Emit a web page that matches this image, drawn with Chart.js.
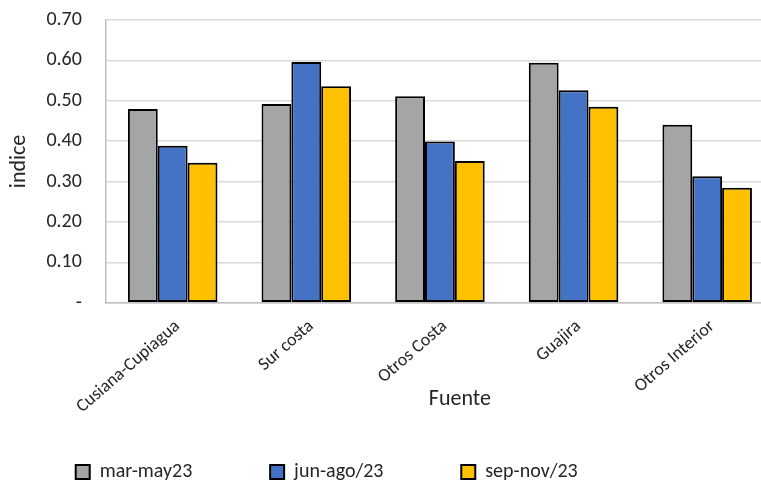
<!DOCTYPE html>
<html>
<head>
<meta charset="utf-8">
<script src="https://cdn.jsdelivr.net/npm/chart.js@4.4.0/dist/chart.umd.min.js"></script>
<style>
  html, body { margin: 0; padding: 0; background: #fff; overflow: hidden; }
  #wrap { width: 775px; height: 483px; position: relative; }
</style>
</head>
<body>
<div id="wrap"><canvas id="barChart"></canvas></div>
<script>
const categories = ["Cusiana-Cupiagua", "Sur costa", "Otros Costa", "Guajira", "Otros Interior"];
const marMay = [0.480, 0.492, 0.511, 0.594, 0.441];
const junAgo = [0.389, 0.596, 0.399, 0.526, 0.313];
const sepNov = [0.347, 0.536, 0.351, 0.485, 0.285];
const seriesLabels = ["mar-may23", "jun-ago/23", "sep-nov/23"];
const yTicks = [0, 0.1, 0.2, 0.3, 0.4, 0.5, 0.6, 0.7];

const fontFamily = "Carlito, 'Open Sans', 'Liberation Sans', sans-serif";
const textColor = "#262626";

function makeSet(label, data, color) {
    return {
        label: label,
        data: data,
        backgroundColor: color,
        borderColor: "#000",
        borderWidth: 2,
        borderSkipped: false,
        categoryPercentage: 0.67,
        barPercentage: 1.0
    };
}

const ctx = document.getElementById("barChart").getContext("2d");

new Chart(ctx, {
    type: "bar",
    data: {
        labels: categories,
        datasets: [
            makeSet(seriesLabels[0], marMay, "#a5a5a5"),
            makeSet(seriesLabels[1], junAgo, "#4472c4"),
            makeSet(seriesLabels[2], sepNov, "#ffc000")
        ]
    },
    options: {
        responsive: true,
        maintainAspectRatio: false,
        animation: false,
        layout: { padding: { top: 20, right: 1, left: 6, bottom: -9 } },
        plugins: {
            legend: {
                position: "bottom",
                labels: {
                    font: { family: fontFamily, size: 20 },
                    color: textColor,
                    boxWidth: 14,
                    boxHeight: 14,
                    padding: 10,
                    generateLabels: function (chart) {
                        const items = Chart.defaults.plugins.legend.labels.generateLabels(chart);
                        items.forEach((item, i) => {
                            // Excel spaces the legend entries wider than Chart.js does
                            item.text = item.text + " ".repeat(i === items.length - 1 ? 28 : 15);
                            item.lineWidth = 2;
                        });
                        return items;
                    }
                }
            },
            tooltip: { enabled: false }
        },
        scales: {
            x: {
                grid: { display: false },
                border: { color: "#bfbfbf", width: 1.5 },
                ticks: {
                    font: { family: fontFamily, size: 18 },
                    color: textColor,
                    maxRotation: 41,
                    minRotation: 41,
                    padding: 5,
                    labelOffset: 5
                },
                title: {
                    display: true,
                    text: "        Fuente",
                    font: { family: fontFamily, size: 22 },
                    color: textColor,
                    padding: { top: -36, bottom: 39 }
                }
            },
            y: {
                min: 0,
                max: 0.7,
                afterBuildTicks: function (axis) {
                    axis.ticks = yTicks.map(v => ({ value: v }));
                },
                grid: { color: "#d9d9d9", lineWidth: 1.5, drawTicks: true, tickLength: 22, tickColor: "rgba(0,0,0,0)" },
                border: { color: "#bfbfbf", width: 1.5 },
                ticks: {
                    font: { family: fontFamily, size: 20 },
                    color: textColor,
                    padding: 2,
                    callback: function (value) {
                        return value === 0 ? "-" : value.toFixed(2);
                    }
                },
                title: {
                    display: true,
                    text: "indice",
                    font: { family: fontFamily, size: 22 },
                    color: textColor,
                    padding: { top: 0, bottom: 12 }
                }
            }
        }
    }
});
</script>
</body>
</html>
